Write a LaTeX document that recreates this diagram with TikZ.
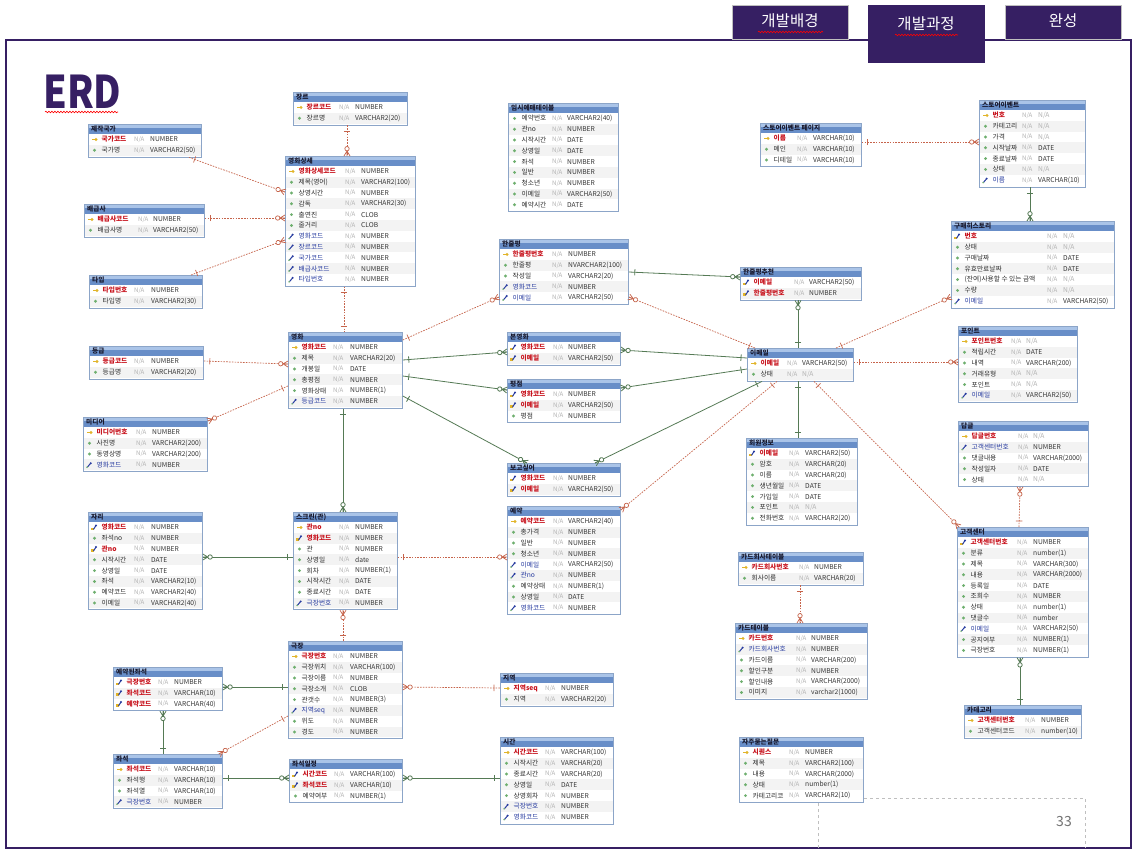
\documentclass[tikz,border=0pt]{standalone}
\usepackage{fontspec}
\setmainfont{Noto Sans CJK KR}
\usetikzlibrary{calc,decorations.markings,decorations.pathmorphing}
\definecolor{tabpurple}{RGB}{54,31,99}
\definecolor{pkred}{RGB}{200,20,30}
\definecolor{fkblue}{RGB}{40,60,160}
\definecolor{ngray}{RGB}{45,45,45}
\definecolor{nagray}{RGB}{178,178,178}
\definecolor{tygray}{RGB}{55,55,55}
\definecolor{hdA}{RGB}{104,142,200}
\definecolor{hdB}{RGB}{170,196,232}
\definecolor{hdtext}{RGB}{25,25,45}
\definecolor{tblborder}{RGB}{140,165,200}
\definecolor{rowgray}{RGB}{243,243,243}
\definecolor{relred}{RGB}{198,100,75}
\definecolor{relgreen}{RGB}{85,122,85}
\definecolor{keygold}{RGB}{225,180,40}
\definecolor{dotgreen}{RGB}{110,175,110}
\newcommand\rowfont{\fontsize{6.7}{7.4}\selectfont}
\newcommand\nafont{\fontsize{6.1}{7}\selectfont}
\newcommand\NA{\textcolor{nagray}{N/A}}
\tikzset{
 nmN/.style={anchor=west, inner sep=0pt, font=\rowfont, text=ngray},
 nmK/.style={anchor=west, inner sep=0pt, font=\rowfont\bfseries, text=pkred},
 nmP/.style={anchor=west, inner sep=0pt, font=\rowfont\bfseries, text=pkred},
 nmF/.style={anchor=west, inner sep=0pt, font=\rowfont, text=fkblue},
 natxt/.style={anchor=west, inner sep=0pt, font=\nafont, text=nagray},
 tytxt/.style={anchor=west, inner sep=0pt, font=\rowfont, text=tygray},
 hdtxt/.style={anchor=west, inner sep=0pt, font=\rowfont\bfseries, text=hdtext},
 tblframe/.style={draw=tblborder, line width=0.8pt, inner sep=0pt, anchor=north west},
 pics/icoN/.style={code={\fill[dotgreen] (0,0) circle[radius=1.6pt];}},
 pics/icoK/.style={code={\fill[keygold] (-3pt,-0.8pt) rectangle (1pt,0.8pt); \fill[keygold] (1.5pt,0) circle[radius=1.6pt];}},
 pics/icoF/.style={code={\draw[fkblue, line width=1pt] (-2pt,-2.2pt) -- (1.2pt,1.6pt); \fill[fkblue] (1.2pt,1.6pt) circle[radius=1.1pt]; \fill[dotgreen] (-2.4pt,-2.4pt) circle[radius=0.9pt];}},
 pics/icoP/.style={code={\fill[keygold] (-3.5pt,-3pt) rectangle (-0.8pt,-0.2pt); \draw[fkblue, line width=1pt] (-1pt,-2pt) -- (1.5pt,2pt); \fill[fkblue] (1.5pt,2pt) circle[radius=1.1pt];}},
 rtick/.style={postaction={decorate, decoration={markings, mark=at position #1 with {\draw[solid, relred, line width=0.7pt] (0,-3.2pt) -- (0,3.2pt);}}}},
 gtick/.style={postaction={decorate, decoration={markings, mark=at position #1 with {\draw[solid, relgreen, line width=0.8pt] (0,-3.2pt) -- (0,3.2pt);}}}},
 rcrow/.style={postaction={decorate, decoration={markings, mark=at position 1 with {\draw[solid, relred, line width=0.7pt] (-5pt,0) -- (0,3pt) (-5pt,0) -- (0,-3pt) (-5pt,0) -- (0,0); \draw[solid, relred, line width=0.7pt, fill=white] (-7.3pt,0) circle[radius=2.2pt];}}}},
 gcrow/.style={postaction={decorate, decoration={markings, mark=at position 1 with {\draw[solid, relgreen, line width=0.8pt] (-5pt,0) -- (0,3pt) (-5pt,0) -- (0,-3pt) (-5pt,0) -- (0,0); \draw[solid, relgreen, line width=0.8pt, fill=white] (-7.3pt,0) circle[radius=2.2pt];}}}},
 rrel/.style={draw=relred, line width=0.7pt, dash pattern=on 1.6pt off 1.2pt, rtick=6pt, rcrow},
 rrelone/.style={draw=relred, line width=0.7pt, dash pattern=on 1.6pt off 1.2pt, rtick=6pt, rtick=-6pt},
 grel/.style={draw=relgreen, line width=0.8pt, gtick=6pt, gcrow},
 grelone/.style={draw=relgreen, line width=0.8pt, gtick=6pt, gtick=-6pt},
 tabtxt/.style={text=white, font=\fontsize{15.5}{16}\selectfont},
 wavy/.style={draw=red, line width=0.6pt, decorate, decoration={snake, amplitude=0.8pt, segment length=3pt}},
}
% #1 name, #2 x, #3 y, #4 width, #5 rows, #6 N/A offset, #7 type offset, #8 title, #9 rows
\newcommand{\erd}[9]{%
 \pgfmathsetmacro\tbh{11+#5*10.8}%
 \fill[white] (#2,#3) rectangle ++(#4,\tbh);
 \foreach \rt/\rn/\rty [count=\ri] in {#9}{%
   \pgfmathsetmacro\ry{#3+10+(\ri-1)*10.8}%
   \ifodd\ri\else\fill[rowgray] (#2,\ry) rectangle ++(#4,10.8);\fi
   \pic at (#2+6.5,\ry+5.4) {ico\rt};
   \node[nm\rt] at (#2+13.5,\ry+5.4) {\rn};
   \node[natxt] at (#2+#6,\ry+5.4) {N/A};
   \node[tytxt] at (#2+#7,\ry+5.4) {\rty};
 }
 \fill[hdA] (#2,#3) rectangle ++(#4,10);
 \fill[hdB] (#2,#3) rectangle ++(#4,3.5);
 \node[hdtxt] at (#2+3,#3+5.3) {#8};
 \node[tblframe, minimum width=#4pt, minimum height=\tbh pt] (#1) at (#2,#3) {};
}
\begin{document}
\begin{tikzpicture}[x=1pt,y=-1pt]
\useasboundingbox (0,0) rectangle (1138,854);
\fill[white] (0,0) rectangle (1138,854);
% frame and tabs
\draw[tabpurple, line width=2pt] (6,40) rectangle (1131,848);
\fill[tabpurple, draw=black!25, line width=0.6pt] (732,5) rectangle (848,39);
\fill[tabpurple, draw=black!25, line width=0.6pt] (1005,5) rectangle (1121,39);
\fill[tabpurple] (868,5) rectangle (985,63);
\node[tabtxt] (tabA) at (790,21) {개발배경};
\node[tabtxt] (tabB) at (926,24) {개발과정};
\node[tabtxt] (tabC) at (1063,21) {완성};
\draw[wavy] (758,32) -- (823,32);
\draw[wavy] (895,35) -- (958,35);
% title
\node[anchor=west, inner sep=0pt, text=tabpurple, font=\fontsize{45}{45}\selectfont\bfseries] (erd) at (43,92) {\scalebox{0.84}[1]{ERD}};
\draw[wavy] (45,112) -- (118,112);
% page number
\draw[black!25, dashed, line width=0.8pt] (818,848) -- (818,798) -- (1085,798) -- (1085,848);
\node[text=black!55, font=\fontsize{14}{14}\selectfont] (pg) at (1064,821) {33};

% tables
\erd{nat}{88}{124}{113}{2}{46}{62}{제작국가}{K/국가코드/NUMBER, N/국가명/VARCHAR2(50)}
\erd{gen}{293}{92}{114}{2}{46}{62}{장르}{K/장르코드/NUMBER, N/장르명/VARCHAR2(20)}
\erd{mdet}{285}{156}{130}{11}{60}{76}{영화상세}{K/영화상세코드/NUMBER, N/제목(영어)/VARCHAR2(100), N/상영시간/NUMBER, N/감독/VARCHAR2(30), N/출연진/CLOB, N/줄거리/CLOB, F/영화코드/NUMBER, F/장르코드/NUMBER, F/국가코드/NUMBER, F/배급사코드/NUMBER, F/타입번호/NUMBER}
\erd{dist}{84}{204}{120}{2}{54}{69}{배급사}{K/배급사코드/NUMBER, N/배급사명/VARCHAR2(50)}
\erd{typ}{89}{275}{113}{2}{45}{62}{타입}{K/타입번호/NUMBER, N/타입명/VARCHAR2(30)}
\erd{mov}{288}{332}{114}{6}{45}{62}{영화}{K/영화코드/NUMBER, N/제목/VARCHAR2(20), N/개봉일/DATE, N/총평점/NUMBER, N/영화상태/NUMBER(1), F/등급코드/NUMBER}
\erd{grd}{89}{346}{114}{2}{45}{62}{등급}{K/등급코드/NUMBER, N/등급명/VARCHAR2(20)}
\erd{med}{83}{417}{124}{4}{53}{69}{미디어}{K/미디어번호/NUMBER, N/사진명/VARCHAR2(200), N/동영상명/VARCHAR2(200), F/영화코드/NUMBER}
\erd{seatA}{88}{512}{114}{8}{46}{63}{자리}{P/영화코드/NUMBER, N/좌석no/NUMBER, P/관no/NUMBER, N/시작시간/DATE, N/상영일/DATE, N/좌석/VARCHAR2(10), N/예약코드/VARCHAR2(40), N/이메일/VARCHAR2(40)}
\erd{scr}{293}{512}{104}{8}{46}{62}{스크린(관)}{K/관no/NUMBER, P/영화코드/NUMBER, N/관/NUMBER, N/상영일/date, N/회차/NUMBER(1), N/시작시간/DATE, N/종료시간/DATE, F/극장번호/NUMBER}
\erd{thr}{288}{641}{114}{8}{45}{62}{극장}{K/극장번호/NUMBER, N/극장위치/VARCHAR(100), N/극장이름/NUMBER, N/극장소개/CLOB, N/관갯수/NUMBER(3), F/지역seq/NUMBER, N/위도/NUMBER, N/경도/NUMBER}
\erd{rseat}{113}{667}{109}{3}{45}{61}{예약된좌석}{P/극장번호/NUMBER, P/좌석코드/VARCHAR(10), P/예약코드/VARCHAR(40)}
\erd{seat}{113}{754}{109}{4}{45}{61}{좌석}{K/좌석코드/VARCHAR(10), N/좌석행/VARCHAR(10), N/좌석열/VARCHAR(10), F/극장번호/NUMBER}
\erd{sseat}{289}{759}{113}{3}{45}{61}{좌석일정}{P/시간코드/VARCHAR(100), P/좌석코드/VARCHAR(10), N/예약여부/NUMBER(1)}
\erd{tim}{500}{737}{113}{7}{45}{61}{시간}{K/시간코드/VARCHAR(100), N/시작시간/VARCHAR(20), N/종료시간/VARCHAR(20), N/상영일/DATE, N/상영회차/NUMBER, F/극장번호/NUMBER, F/영화코드/NUMBER}
\erd{faq}{739}{737}{124}{5}{50}{66}{자주묻는질문}{K/시퀀스/NUMBER, N/제목/VARCHAR2(100), N/내용/VARCHAR(2000), N/상태/number(1), N/카테고리코/VARCHAR2(10)}
\erd{rsv}{507}{506}{113}{9}{46}{61}{예약}{K/예약코드/VARCHAR2(40), N/총가격/NUMBER, N/일반/NUMBER, N/청소년/NUMBER, F/이메일/VARCHAR2(50), F/관no/NUMBER, N/예약상태/NUMBER(1), N/상영일/DATE, F/영화코드/NUMBER}
\erd{reg}{500}{673}{113}{2}{45}{61}{지역}{K/지역seq/NUMBER, N/지역/VARCHAR2(20)}
\erd{ccomp}{738}{552}{125}{2}{61}{76}{카드회사테이블}{K/카드회사번호/NUMBER, N/회사이름/VARCHAR(20)}
\erd{card}{735}{623}{132}{6}{61}{76}{카드테이블}{K/카드번호/NUMBER, F/카드회사번호/NUMBER, N/카드이름/VARCHAR(200), N/할인구분/NUMBER, N/할인내용/VARCHAR(2000), N/이미지/varchar2(1000)}
\erd{seen}{507}{332}{113}{2}{46}{61}{본영화}{P/영화코드/NUMBER, P/이메일/VARCHAR2(50)}
\erd{rate}{507}{379}{113}{3}{46}{61}{평점}{P/영화코드/NUMBER, P/이메일/VARCHAR2(50), N/평점/NUMBER}
\erd{want}{507}{463}{113}{2}{46}{61}{보고싶어}{P/영화코드/NUMBER, P/이메일/VARCHAR2(50)}
\erd{mail}{747}{348}{106}{2}{40}{55}{이메일}{K/이메일/VARCHAR2(50), N/상태/\NA}
\erd{mem}{746}{438}{111}{7}{43}{59}{회원정보}{P/이메일/VARCHAR2(50), N/암호/VARCHAR(20), N/이름/VARCHAR(20), N/생년월일/DATE, N/가입일/DATE, N/포인트/\NA, N/전화번호/VARCHAR2(20)}
\erd{pnt}{958}{326}{119}{6}{53}{68}{포인트}{K/포인트번호/\NA, N/적립시간/DATE, N/내역/VARCHAR(200), N/거래유형/\NA, N/포인트/\NA, F/이메일/VARCHAR2(50)}
\erd{rep}{958}{421}{130}{5}{60}{75}{답글}{K/답글번호/\NA, F/고객센터번호/NUMBER, N/댓글내용/VARCHAR(2000), N/작성일자/DATE, N/상태/\NA}
\erd{cs}{957}{527}{131}{11}{60}{76}{고객센터}{P/고객센터번호/NUMBER, N/분류/number(1), N/제목/VARCHAR(300), N/내용/VARCHAR(2000), N/등록일/DATE, N/조회수/NUMBER, N/상태/number(1), N/댓글수/number, F/이메일/VARCHAR2(50), N/공지여부/NUMBER(1), N/극장번호/NUMBER(1)}
\erd{cat}{964}{705}{117}{2}{61}{77}{카테고리}{K/고객센터번호/NUMBER, N/고객센터코드/number(10)}
\erd{stp}{760}{123}{101}{3}{37}{53}{스토어이벤트 페이지}{K/이름/VARCHAR(10), N/메인/VARCHAR(10), N/디테일/VARCHAR(10)}
\erd{ste}{979}{100}{106}{7}{43}{59}{스토어이벤트}{K/번호/\NA, N/카테고리/\NA, N/가격/\NA, N/시작날짜/DATE, N/종료날짜/DATE, N/상태/\NA, F/이름/VARCHAR(10)}
\erd{buy}{951}{221}{163}{7}{96}{112}{구매히스토리}{P/번호/\NA, N/상태/\NA, N/구매날짜/DATE, N/유효만료날짜/DATE, N/(잔여)사용할 수 있는 금액/\NA, N/수량/\NA, F/이메일/VARCHAR2(50)}
\erd{rrec}{740}{267}{121}{2}{54}{69}{한줄평추천}{P/이메일/VARCHAR2(50), P/한줄평번호/NUMBER}
\erd{tmp}{508}{103}{110}{9}{44}{59}{임시예매테이블}{N/예약번호/VARCHAR2(40), N/관no/NUMBER, N/시작시간/DATE, N/상영일/DATE, N/좌석/NUMBER, N/일반/NUMBER, N/청소년/NUMBER, N/이메일/VARCHAR2(50), N/예약시간/DATE}
\erd{rev}{499}{239}{129}{5}{53}{69}{한줄평}{K/한줄평번호/NUMBER, N/한줄평/NVARCHAR2(100), N/작성일/VARCHAR2(20), F/영화코드/NUMBER, F/이메일/VARCHAR2(50)}

% non-identifying relations (red dotted)
\draw[rrel] ($(nat.south west)+(101,0)$) -- ($(mdet.north west)+(0,36)$);
\draw[rrel] ($(dist.north east)+(0,14)$) -- ($(mdet.north west)+(0,62)$);
\draw[rrel] ($(typ.north west)+(102,0)$) -- ($(mdet.north west)+(0,84)$);
\draw[rrel] ($(gen.south west)+(54,0)$) -- ($(mdet.north west)+(62,0)$);
\draw[rrelone] ($(mdet.south west)+(59,0)$) -- ($(mov.north west)+(56,0)$);
\draw[rrel] ($(grd.north east)+(0,15)$) -- ($(mov.north west)+(0,32)$);
\draw[rrel] ($(mov.north west)+(0,54)$) -- ($(med.north east)+(0,4)$);
\draw[rrel] ($(mov.north east)+(0,8)$) -- ($(rev.north west)+(0,58)$);
\draw[rrel] ($(mail.north west)+(8,0)$) -- ($(rev.north east)+(0,58)$);
\draw[rrel] ($(mail.north west)+(89,0)$) -- ($(buy.north west)+(0,76)$);
\draw[rrel] ($(mail.north east)+(0,14)$) -- ($(pnt.north west)+(0,36)$);
\draw[rrel] ($(mail.south west)+(30,0)$) -- ($(rsv.north east)+(0,4)$);
\draw[rrel] ($(mail.south west)+(67,0)$) -- ($(cs.north west)+(2,0)$);
\draw[rrel] ($(cs.north west)+(62,0)$) -- ($(rep.south west)+(62,0)$);
\draw[rrel] ($(stp.north east)+(0,19)$) -- ($(ste.north west)+(0,42)$);
\draw[rrel] ($(scr.north east)+(0,45)$) -- ($(rsv.north west)+(0,51)$);
\draw[rrel] ($(thr.north west)+(55,0)$) -- ($(scr.south west)+(50,0)$);
\draw[rrel] ($(reg.north west)+(0,15)$) -- ($(thr.north east)+(0,46)$);
\draw[rrel] ($(thr.north west)+(0,75)$) -- ($(seat.north east)+(-4,0)$);
\draw[rrel] ($(ccomp.south west)+(62,0)$) -- ($(card.north west)+(65,0)$);

% identifying relations (green solid)
\draw[grel] ($(rev.north east)+(0,33)$) -- ($(rrec.north west)+(0,10)$);
\draw[grel] ($(mail.north west)+(51,0)$) -- ($(rrec.south west)+(58,0)$);
\draw[grel] ($(ste.south west)+(51,0)$) -- ($(buy.north west)+(79,0)$);
\draw[grel] ($(mov.north east)+(0,28)$) -- ($(seen.north west)+(0,20)$);
\draw[grel] ($(mov.north east)+(0,44)$) -- ($(rate.north west)+(0,11)$);
\draw[grel] ($(mov.north east)+(0,64)$) -- ($(want.north west)+(20,0)$);
\draw[grel] ($(mail.north west)+(0,10)$) -- ($(seen.north east)+(0,18)$);
\draw[grel] ($(mail.north west)+(0,21)$) -- ($(rate.north east)+(0,9)$);
\draw[grel] ($(mail.south west)+(15,0)$) -- ($(want.north west)+(88,0)$);
\draw[grelone] ($(mail.south west)+(51,0)$) -- ($(mem.north west)+(52,0)$);
\draw[grel] ($(mov.south west)+(55,0)$) -- ($(scr.north west)+(50,0)$);
\draw[grel] ($(scr.north west)+(0,45)$) -- ($(seatA.north east)+(0,45)$);
\draw[grel] ($(thr.north west)+(0,46)$) -- ($(rseat.north east)+(0,20)$);
\draw[grel] ($(seat.north west)+(50,0)$) -- ($(rseat.south west)+(50,0)$);
\draw[grel] ($(seat.north east)+(0,24)$) -- ($(sseat.north west)+(0,19)$);
\draw[grel] ($(tim.north west)+(0,41)$) -- ($(sseat.north east)+(0,19)$);
\draw[grel] ($(cat.north west)+(56,0)$) -- ($(cs.south west)+(63,0)$);
\end{tikzpicture}
\end{document}
